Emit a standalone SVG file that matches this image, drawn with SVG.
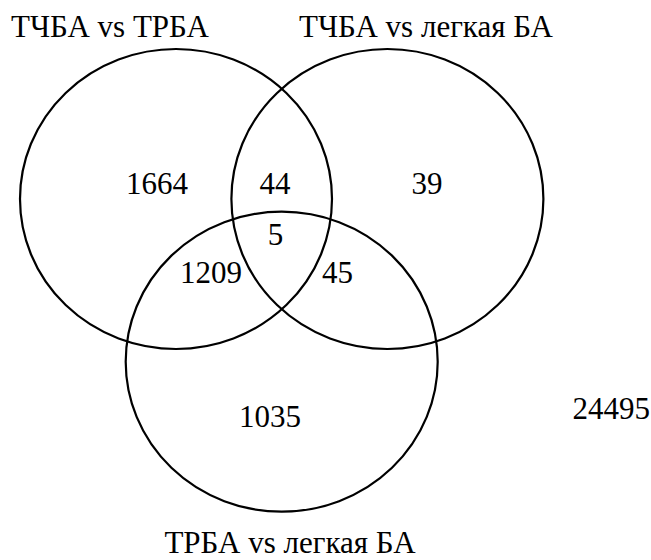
<svg xmlns="http://www.w3.org/2000/svg" width="651" height="560" viewBox="0 0 651 560">
<style>
.set{fill:none;stroke:#000;stroke-width:2.2}
text{font-family:"Liberation Serif","Times New Roman",serif;font-size:31px;fill:#000}
.c{text-anchor:middle}
</style>
<rect width="651" height="560" fill="#fff"/>
<g id="set-tchba-trba">
<ellipse class="set" cx="176" cy="199" rx="156" ry="150"/>
<text x="11" y="37">ТЧБА vs ТРБА</text>
</g>
<g id="set-tchba-legkaya">
<ellipse class="set" cx="387.4" cy="199" rx="156" ry="150"/>
<text x="299" y="37">ТЧБА vs легкая БА</text>
</g>
<g id="set-trba-legkaya">
<ellipse class="set" cx="281.7" cy="361.7" rx="156" ry="150"/>
<text class="c" x="290" y="553">ТРБА vs легкая БА</text>
</g>
<g id="counts">
<text class="c" x="157" y="194">1664</text>
<text class="c" x="275" y="194">44</text>
<text class="c" x="427" y="194">39</text>
<text class="c" x="275.5" y="245">5</text>
<text class="c" x="211" y="283">1209</text>
<text class="c" x="337.5" y="283">45</text>
<text class="c" x="270" y="427">1035</text>
<text x="650" y="419" text-anchor="end">24495</text>
</g>
<g id="connectors"></g>
</svg>
